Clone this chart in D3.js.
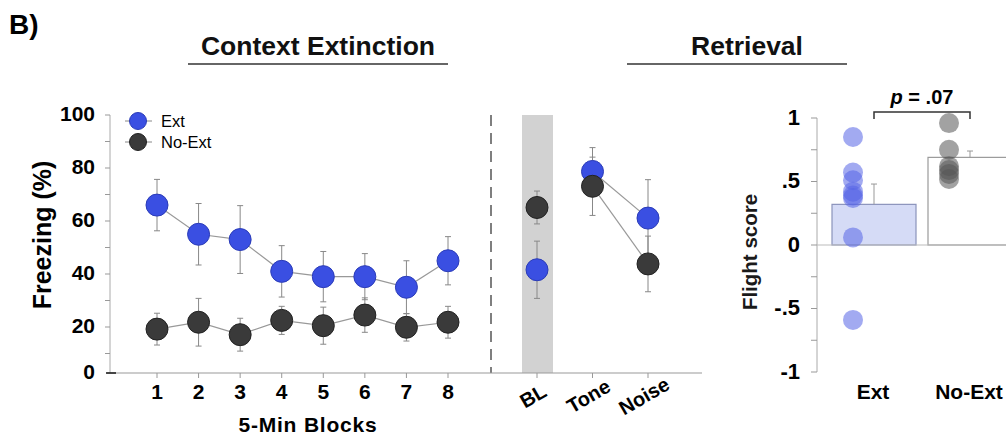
<!DOCTYPE html>
<html><head><meta charset="utf-8">
<script src="https://cdn.jsdelivr.net/npm/d3@7"></script>
<style>body{margin:0;background:#fff}svg{display:block;font-family:"Liberation Sans",Arial,Helvetica,sans-serif}</style>
</head><body>
<svg id="c" width="1006" height="439"></svg>
<script>
// ---- data ----
const blocks = [1,2,3,4,5,6,7,8];
const extMean = [66,55,53,41,39,39,35,45];
const extErr = [9.7,11.6,12.8,9.7,9.5,8.7,10,9.1];
const noExtMean = [19.2,21.8,17.1,22.5,20.5,24.5,19.9,21.8];
const noExtErr = [6,9,6.2,5.3,7,6.5,5.2,6];
const retCats = ["BL","Tone","Noise"];
const retExtMean = [41.6,78.7,61.1];
const retExtErr = [10.8,9,14.5];
const retNoExtMean = [65.1,73.1,43.8];
const retNoExtErr = [6.2,11,10.5];
const yTicksL = [0,20,40,60,80,100];
const groups = ["Ext","No-Ext"];
const flightMean = [0.32,0.69];
const flightErr = [0.16,0.05];
const flightExtPts = [0.85,0.57,0.51,0.42,0.39,0.37,0.06,-0.59];
const flightNoExtPts = [0.96,0.75,0.62,0.59,0.56,0.52];
const yTicksF = [1,0.5,0,-0.5,-1];
const yTickLabF = ["1",".5","0","-.5","-1"];

const svg = d3.select("#c");
const BLUE="#3a4fe2", BLUE_S="#2b3cb8", DARK="#3a3a3a", DARK_S="#222";

// ---- titles ----
svg.append("text").attr("x",9).attr("y",34).attr("font-size",28).attr("font-weight","bold").text("B)");
svg.append("text").attr("x",318).attr("y",55).attr("text-anchor","middle").attr("font-size",26.5).attr("font-weight","bold").attr("fill","#111").text("Context Extinction");
svg.append("line").attr("x1",188).attr("x2",448).attr("y1",64).attr("y2",64).attr("stroke","#333").attr("stroke-width",1.6);
svg.append("text").attr("x",747).attr("y",55).attr("text-anchor","middle").attr("font-size",26.5).attr("font-weight","bold").attr("fill","#111").text("Retrieval");
svg.append("line").attr("x1",627).attr("x2",847).attr("y1",64).attr("y2",64).attr("stroke","#333").attr("stroke-width",1.6);

// ---- left panel scales ----
const yL = d3.scaleLinear().domain([0,100]).range([380,115]);
const xL = d3.scaleLinear().domain([1,8]).range([157,448]);
const xR = d3.scalePoint().domain(retCats).range([537,648]);
const axisY = 373, axisX = 110;

// gray band at BL
svg.append("rect").attr("x",xR("BL")-15).attr("width",31).attr("y",yL(100)).attr("height",axisY-yL(100)).attr("fill","#d2d2d2");

// dashed divider
svg.append("line").attr("x1",491).attr("x2",491).attr("y1",yL(100)).attr("y2",axisY).attr("stroke","#555").attr("stroke-width",1.5).attr("stroke-dasharray","11,7");

// y axis
svg.append("line").attr("x1",axisX).attr("x2",axisX).attr("y1",yL(100)).attr("y2",axisY).attr("stroke","#aaa").attr("stroke-width",1);
d3.range(10,101,10).forEach(v=>{
  svg.append("line").attr("x1",axisX-5).attr("x2",axisX).attr("y1",yL(v)).attr("y2",yL(v)).attr("stroke","#999");
});
yTicksL.forEach(v=>{
  const yy = v===0 ? axisY : yL(v);
  svg.append("text").attr("x",axisX-15).attr("y",yy-1.5).attr("dy","0.35em").attr("text-anchor","end").attr("font-size",21).attr("font-weight","bold").text(v);
});
// x axis line
svg.append("line").attr("x1",107).attr("x2",702).attr("y1",axisY).attr("y2",axisY).attr("stroke","#999").attr("stroke-width",1.2);
svg.append("line").attr("x1",106).attr("x2",116).attr("y1",axisY).attr("y2",axisY).attr("stroke","#222").attr("stroke-width",1.6);
blocks.forEach(b=>{
  svg.append("line").attr("x1",xL(b)).attr("x2",xL(b)).attr("y1",axisY).attr("y2",axisY+5).attr("stroke","#999");
  svg.append("text").attr("x",xL(b)).attr("y",399).attr("text-anchor","middle").attr("font-size",21).attr("font-weight","bold").text(b);
});
retCats.forEach(c=>{
  svg.append("line").attr("x1",xR(c)).attr("x2",xR(c)).attr("y1",axisY).attr("y2",axisY+5).attr("stroke","#999");
  const tx = xR(c)-4, ty = 396;
  svg.append("text").attr("transform",`translate(${tx},${ty}) rotate(-30)`).attr("text-anchor","middle").attr("font-size",20).attr("font-weight","bold").attr("dy","0.35em").text(c);
});
svg.append("text").attr("transform","translate(51,235) rotate(-90)").attr("text-anchor","middle").attr("font-size",25).attr("font-weight","bold").text("Freezing (%)");
svg.append("text").attr("x",308).attr("y",432).attr("text-anchor","middle").attr("font-size",21).attr("font-weight","bold").attr("letter-spacing",0.8).text("5-Min Blocks");

// series drawing helper
function errbar(x,m,e,lo){
  const g = svg.append("g").attr("stroke","#888").attr("stroke-width",1);
  g.append("line").attr("x1",x).attr("x2",x).attr("y1",lo(m+e)).attr("y2",lo(m-e));
  g.append("line").attr("x1",x-3).attr("x2",x+3).attr("y1",lo(m+e)).attr("y2",lo(m+e));
  g.append("line").attr("x1",x-3).attr("x2",x+3).attr("y1",lo(m-e)).attr("y2",lo(m-e));
}
const line = d3.line().x(d=>d[0]).y(d=>yL(d[1]));
const lineStyle = p=>p.attr("fill","none").attr("stroke","#999").attr("stroke-width",1.2);
svg.append("path").attr("d",line(blocks.map((b,i)=>[xL(b),noExtMean[i]]))).call(lineStyle);
svg.append("path").attr("d",line(blocks.map((b,i)=>[xL(b),extMean[i]]))).call(lineStyle);
svg.append("path").attr("d",line(["Tone","Noise"].map(c=>[xR(c),retExtMean[retCats.indexOf(c)]]))).call(lineStyle);
svg.append("path").attr("d",line(["Tone","Noise"].map(c=>[xR(c),retNoExtMean[retCats.indexOf(c)]]))).call(lineStyle);
// error bars
blocks.forEach((b,i)=>{errbar(xL(b),extMean[i],extErr[i],yL);errbar(xL(b),noExtMean[i],noExtErr[i],yL);});
retCats.forEach((c,i)=>{errbar(xR(c),retExtMean[i],retExtErr[i],yL);errbar(xR(c),retNoExtMean[i],retNoExtErr[i],yL);});
// points
function dots(xs,vals,fill,stroke){
  svg.append("g").selectAll("circle").data(vals).join("circle")
    .attr("cx",(d,i)=>xs[i]).attr("cy",d=>yL(d)).attr("r",11)
    .attr("fill",fill).attr("stroke",stroke).attr("stroke-width",1);
}
dots(blocks.map(xL),noExtMean,DARK,DARK_S);
dots(blocks.map(xL),extMean,BLUE,BLUE_S);
dots(retCats.map(xR),retExtMean,BLUE,BLUE_S);
dots(retCats.map(xR),retNoExtMean,DARK,DARK_S);

// legend
const lg = [["Ext",BLUE,BLUE_S],["No-Ext",DARK,DARK_S]];
lg.forEach((d,i)=>{
  const y = 121 + i*21;
  svg.append("line").attr("x1",125).attr("x2",152).attr("y1",y).attr("y2",y).attr("stroke","#888");
  svg.append("circle").attr("cx",138).attr("cy",y).attr("r",8.5).attr("fill",d[1]).attr("stroke",d[2]);
  svg.append("text").attr("x",161).attr("y",y).attr("dy","0.35em").attr("font-size",16.5).text(d[0]);
});

// ---- right panel: flight score ----
const yF = d3.scaleLinear().domain([-1,1]).range([372,118]);
const xF = d3.scaleBand().domain(groups).range([826,1018]).paddingInner(0.125).paddingOuter(0.0625);
const fAx = 817;
svg.append("line").attr("x1",fAx).attr("x2",fAx).attr("y1",yF(1)).attr("y2",yF(-1)).attr("stroke","#aaa");
d3.range(-1,1.01,0.25).forEach(v=>{
  svg.append("line").attr("x1",fAx-6).attr("x2",fAx).attr("y1",yF(v)).attr("y2",yF(v)).attr("stroke","#999");
});
yTicksF.forEach((v,i)=>{
  svg.append("text").attr("x",800).attr("y",yF(v)-1).attr("dy","0.35em").attr("text-anchor","end").attr("font-size",22).attr("font-weight","bold").text(yTickLabF[i]);
});
svg.append("text").attr("transform","translate(757,252) rotate(-90)").attr("text-anchor","middle").attr("font-size",20.5).attr("font-weight","bold").attr("fill","#1a1a1a").text("Flight score");
// bars
const barFill = ["#d5dbf6","#ffffff"], barStroke=["#8b93bb","#9a9a9a"];
groups.forEach((g,i)=>{
  const top = yF(flightMean[i]);
  svg.append("rect").attr("x",xF(g)).attr("width",xF.bandwidth()).attr("y",top).attr("height",yF(0)-top)
    .attr("fill",barFill[i]).attr("stroke",barStroke[i]).attr("stroke-width",1.2);
  const cx = xF(g)+xF.bandwidth()/2;
  svg.append("line").attr("x1",cx).attr("x2",cx).attr("y1",top).attr("y2",yF(flightMean[i]+flightErr[i])).attr("stroke","#999");
  svg.append("line").attr("x1",cx-3).attr("x2",cx+3).attr("y1",yF(flightMean[i]+flightErr[i])).attr("y2",yF(flightMean[i]+flightErr[i])).attr("stroke","#999");
  svg.append("text").attr("x",cx-1).attr("y",399).attr("text-anchor","middle").attr("font-size",21).attr("font-weight","bold").text(g);
});
// zero line
svg.append("line").attr("x1",fAx).attr("x2",1006).attr("y1",yF(0)).attr("y2",yF(0)).attr("stroke","#bbb");
// points
const ptOff = -21;
svg.append("g").selectAll("circle").data(flightExtPts).join("circle")
  .attr("cx",xF("Ext")+xF.bandwidth()/2+ptOff).attr("cy",d=>yF(d)).attr("r",10)
  .attr("fill","#5565e6").attr("fill-opacity",0.55);
svg.append("g").selectAll("circle").data(flightNoExtPts).join("circle")
  .attr("cx",xF("No-Ext")+xF.bandwidth()/2+ptOff).attr("cy",d=>yF(d)).attr("r",10)
  .attr("fill","#555").attr("fill-opacity",0.55);
// significance bracket
const bx1 = xF("Ext")+xF.bandwidth()/2, bx2 = xF("No-Ext")+xF.bandwidth()/2;
svg.append("path").attr("d",`M${bx1},119 V112 H${bx2} V119`).attr("fill","none").attr("stroke","#333").attr("stroke-width",1.5);
const pt = svg.append("text").attr("x",(bx1+bx2)/2).attr("y",104).attr("text-anchor","middle").attr("font-size",20).attr("font-weight","bold");
pt.append("tspan").attr("font-style","italic").text("p");
pt.append("tspan").text(" = .07");
</script>
</body></html>
